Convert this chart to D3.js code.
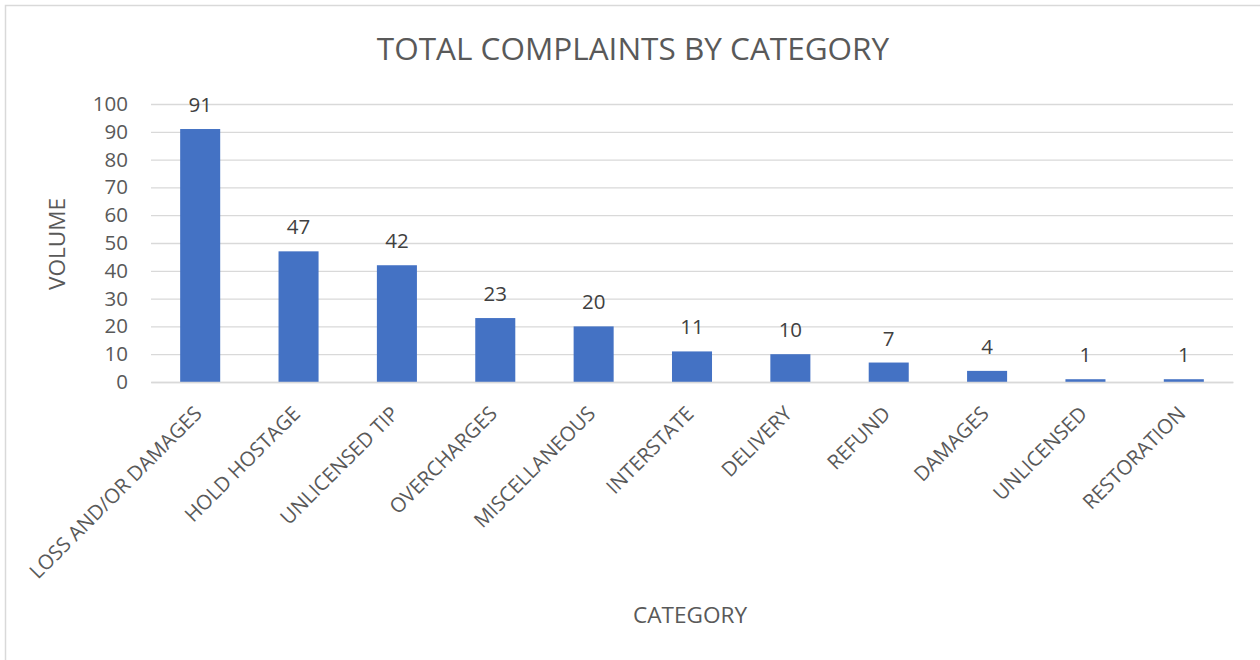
<!DOCTYPE html>
<html>
<head>
<meta charset="utf-8">
<script src="https://cdn.jsdelivr.net/npm/d3@7"></script>
<style>
  body { margin: 0; background: #fff; }
  svg { display: block; }
  svg text { font-family: "Open Sans", sans-serif; }
</style>
</head>
<body>
<script>
// data
let categories = ["LOSS AND/OR DAMAGES", "HOLD HOSTAGE", "UNLICENSED TIP", "OVERCHARGES",
                  "MISCELLANEOUS", "INTERSTATE", "DELIVERY", "REFUND", "DAMAGES",
                  "UNLICENSED", "RESTORATION"];
let volumes = [91, 47, 42, 23, 20, 11, 10, 7, 4, 1, 1];
let yTicks = [0, 10, 20, 30, 40, 50, 60, 70, 80, 90, 100];

let width = 1260,
    height = 660,
    plotLeft = 151,   // plot area
    plotRight = 1233,
    plotTop = 104,
    plotBottom = 382;

let svg = d3.select('body')
    .append('svg')
    .attr('width', width)
    .attr('height', height);

// chart border (only top and left edges show in the frame)
svg.append('rect')
    .attr('x', 5.5).attr('y', 5.5)
    .attr('width', width + 20).attr('height', height + 20)
    .attr('fill', 'none')
    .attr('stroke', '#d9d9d9')
    .attr('stroke-width', 1.5);

let x = d3.scaleBand().domain(categories).range([plotLeft, plotRight])
    .paddingInner(0.593).paddingOuter(0.593 / 2);
let y = d3.scaleLinear().domain([0, 100]).range([plotBottom, plotTop]);

// y axis + gridlines
let axisY = d3.axisLeft(y).tickValues(yTicks)
    .tickSizeInner(-(plotRight - plotLeft)).tickSizeOuter(0).tickPadding(23);
let gy = svg.append('g').attr('transform', `translate(${plotLeft},0)`).call(axisY);
gy.attr('font-family', null).attr('font-size', null);
gy.select('.domain').remove();
gy.selectAll('line').attr('stroke', '#d9d9d9').attr('stroke-width', 1.3);
gy.selectAll('text')
    .attr('fill', '#595959')
    .style('font-size', '20.5px');

// bars
svg.selectAll('rect.bar')
    .data(volumes)
    .enter()
    .append('rect')
    .attr('class', 'bar')
    .attr('x', function(d, i) { return x(categories[i]); })
    .attr('y', function(d) { return y(d); })
    .attr('width', x.bandwidth())
    .attr('height', function(d) { return y(0) - y(d); })
    .attr('fill', '#4472C4');

// value labels
svg.selectAll('text.val')
    .data(volumes)
    .enter()
    .append('text')
    .attr('class', 'val')
    .attr('x', function(d, i) { return x(categories[i]) + x.bandwidth() / 2; })
    .attr('y', function(d) { return y(d) - 17; })
    .attr('text-anchor', 'middle')
    .attr('fill', '#404040')
    .style('font-size', '20.5px')
    .text(function(d) { return d; });

// x axis with rotated labels
let axisX = d3.axisBottom(x).tickSize(0);
let gx = svg.append('g').attr('transform', `translate(0,${plotBottom})`).call(axisX);
gx.attr('font-family', null).attr('font-size', null);
gx.select('.domain').attr('stroke', '#d9d9d9').attr('stroke-width', 1.3);
gx.selectAll('text')
    .attr('x', 0).attr('y', 0).attr('dy', 0)
    .attr('transform', 'translate(3,33) rotate(-45)')
    .attr('text-anchor', 'end')
    .attr('fill', '#595959')
    .style('font-size', '20.3px');

// titles
svg.append('text')
    .attr('x', 633).attr('y', 60)
    .attr('text-anchor', 'middle')
    .attr('fill', '#595959')
    .style('font-size', '31.5px')
    .text('TOTAL COMPLAINTS BY CATEGORY');

svg.append('text')
    .attr('x', 690).attr('y', 623)
    .attr('text-anchor', 'middle')
    .attr('fill', '#595959')
    .style('font-size', '22.6px')
    .text('CATEGORY');

svg.append('text')
    .attr('transform', 'translate(65,244) rotate(-90)')
    .attr('text-anchor', 'middle')
    .attr('fill', '#595959')
    .style('font-size', '22.6px')
    .text('VOLUME');
</script>
</body>
</html>
